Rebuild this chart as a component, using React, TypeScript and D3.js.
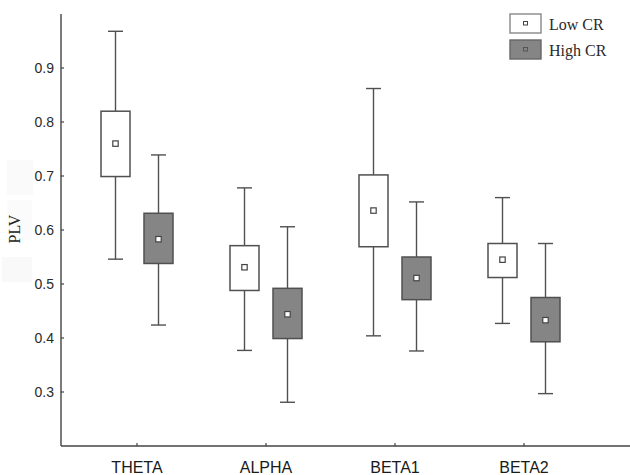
import React from "react";
import * as d3 from "d3";

const categories = ["THETA", "ALPHA", "BETA1", "BETA2"];
const groups = ["Low CR", "High CR"];
// [min, q1, mean, q3, max]
const lowCR = [
  [0.546, 0.699, 0.76, 0.82, 0.968],
  [0.377, 0.488, 0.531, 0.571, 0.678],
  [0.404, 0.569, 0.636, 0.702, 0.862],
  [0.427, 0.512, 0.545, 0.575, 0.66],
];
const highCR = [
  [0.424, 0.538, 0.583, 0.631, 0.739],
  [0.281, 0.399, 0.444, 0.492, 0.606],
  [0.376, 0.471, 0.511, 0.55, 0.652],
  [0.297, 0.393, 0.433, 0.475, 0.575],
];
const yTicks = [0.3, 0.4, 0.5, 0.6, 0.7, 0.8, 0.9];
const yLabel = "PLV";

const W = 630;
const H = 475;
const axisX = 61;
const axisY = 446;

export default function App() {
  const y = d3.scaleLinear().domain([0.2, 1.0]).range([446, 14]);
  const x = d3.scalePoint<string>().domain(categories).range([137, 524]);
  const offset = d3.scalePoint<string>().domain(groups).range([-21.5, 21.5]);
  const boxW = 29;
  const capW = 15;
  const fills: Record<string, string> = { "Low CR": "#ffffff", "High CR": "#858585" };
  const series: Record<string, number[][]> = { "Low CR": lowCR, "High CR": highCR };
  const stroke = "#505050";

  return (
    <svg width={W} height={H} style={{ position: "absolute", left: 0, top: 0, background: "#fff" }}>
      {/* faint artifacts near axis title */}
      <rect x={7} y={160} width={26} height={35} fill="#fafafa" />
      <rect x={7} y={200} width={25} height={40} fill="#fbfbfb" />
      <rect x={2} y={257} width={30} height={25} fill="#f9f9f9" />

      {/* axes */}
      <line x1={axisX} y1={14} x2={axisX} y2={axisY} stroke="#444" strokeWidth={1.4} />
      <line x1={axisX} y1={axisY} x2={W} y2={axisY} stroke="#444" strokeWidth={1.4} />
      {yTicks.map((t) => (
        <g key={t}>
          <line x1={axisX} x2={axisX + 3} y1={y(t)} y2={y(t)} stroke="#444" strokeWidth={1.2} />
          <text
            x={54}
            y={y(t)}
            dy="0.37em"
            textAnchor="end"
            fontFamily="Liberation Sans, Arial, sans-serif"
            fontSize={14}
            fill="#2a2a2a"
          >
            {t.toFixed(1)}
          </text>
        </g>
      ))}
      {categories.map((c) => (
        <g key={c}>
          <line x1={x(c)!} x2={x(c)!} y1={axisY} y2={axisY - 3} stroke="#444" strokeWidth={1.2} />
          <text
            x={x(c)!}
            y={473}
            textAnchor="middle"
            fontFamily="Liberation Sans, Arial, sans-serif"
            fontSize={16}
            fill="#1a1a1a"
          >
            {c}
          </text>
        </g>
      ))}
      <text
        transform={`translate(20,229) rotate(-90)`}
        textAnchor="middle"
        fontFamily="Liberation Serif, Times New Roman, serif"
        fontSize={16}
        fill="#222"
      >
        {yLabel}
      </text>

      {/* boxes */}
      {groups.map((g) =>
        categories.map((c, i) => {
          const [mn, q1, mean, q3, mx] = series[g][i];
          const cx = x(c)! + offset(g)!;
          return (
            <g key={g + c}>
              <line x1={cx} x2={cx} y1={y(mx)} y2={y(q3)} stroke={stroke} strokeWidth={1.4} />
              <line x1={cx} x2={cx} y1={y(q1)} y2={y(mn)} stroke={stroke} strokeWidth={1.4} />
              <line x1={cx - capW / 2} x2={cx + capW / 2} y1={y(mx)} y2={y(mx)} stroke={stroke} strokeWidth={1.4} />
              <line x1={cx - capW / 2} x2={cx + capW / 2} y1={y(mn)} y2={y(mn)} stroke={stroke} strokeWidth={1.4} />
              <rect
                x={cx - boxW / 2}
                y={y(q3)}
                width={boxW}
                height={y(q1) - y(q3)}
                fill={fills[g]}
                stroke={stroke}
                strokeWidth={1.5}
              />
              <rect x={cx - 2.7} y={y(mean) - 2.7} width={5.4} height={5.4} fill="#fff" stroke="#444" strokeWidth={1.2} />
            </g>
          );
        })
      )}

      {/* legend */}
      {groups.map((g, i) => (
        <g key={g} transform={`translate(510,${14 + i * 26})`}>
          <rect x={0} y={0} width={31} height={19} fill={fills[g]} stroke={i === 0 ? "#888" : "#666"} strokeWidth={1.4} />
          <rect x={13.5} y={7.5} width={4} height={3.5} fill="none" stroke={i === 0 ? "#444" : "#555"} strokeWidth={1} />
          <text
            x={39}
            y={15.5}
            fontFamily="Liberation Serif, Times New Roman, serif"
            fontSize={16}
            fill="#2a2a2a"
          >
            {g}
          </text>
        </g>
      ))}
    </svg>
  );
}
